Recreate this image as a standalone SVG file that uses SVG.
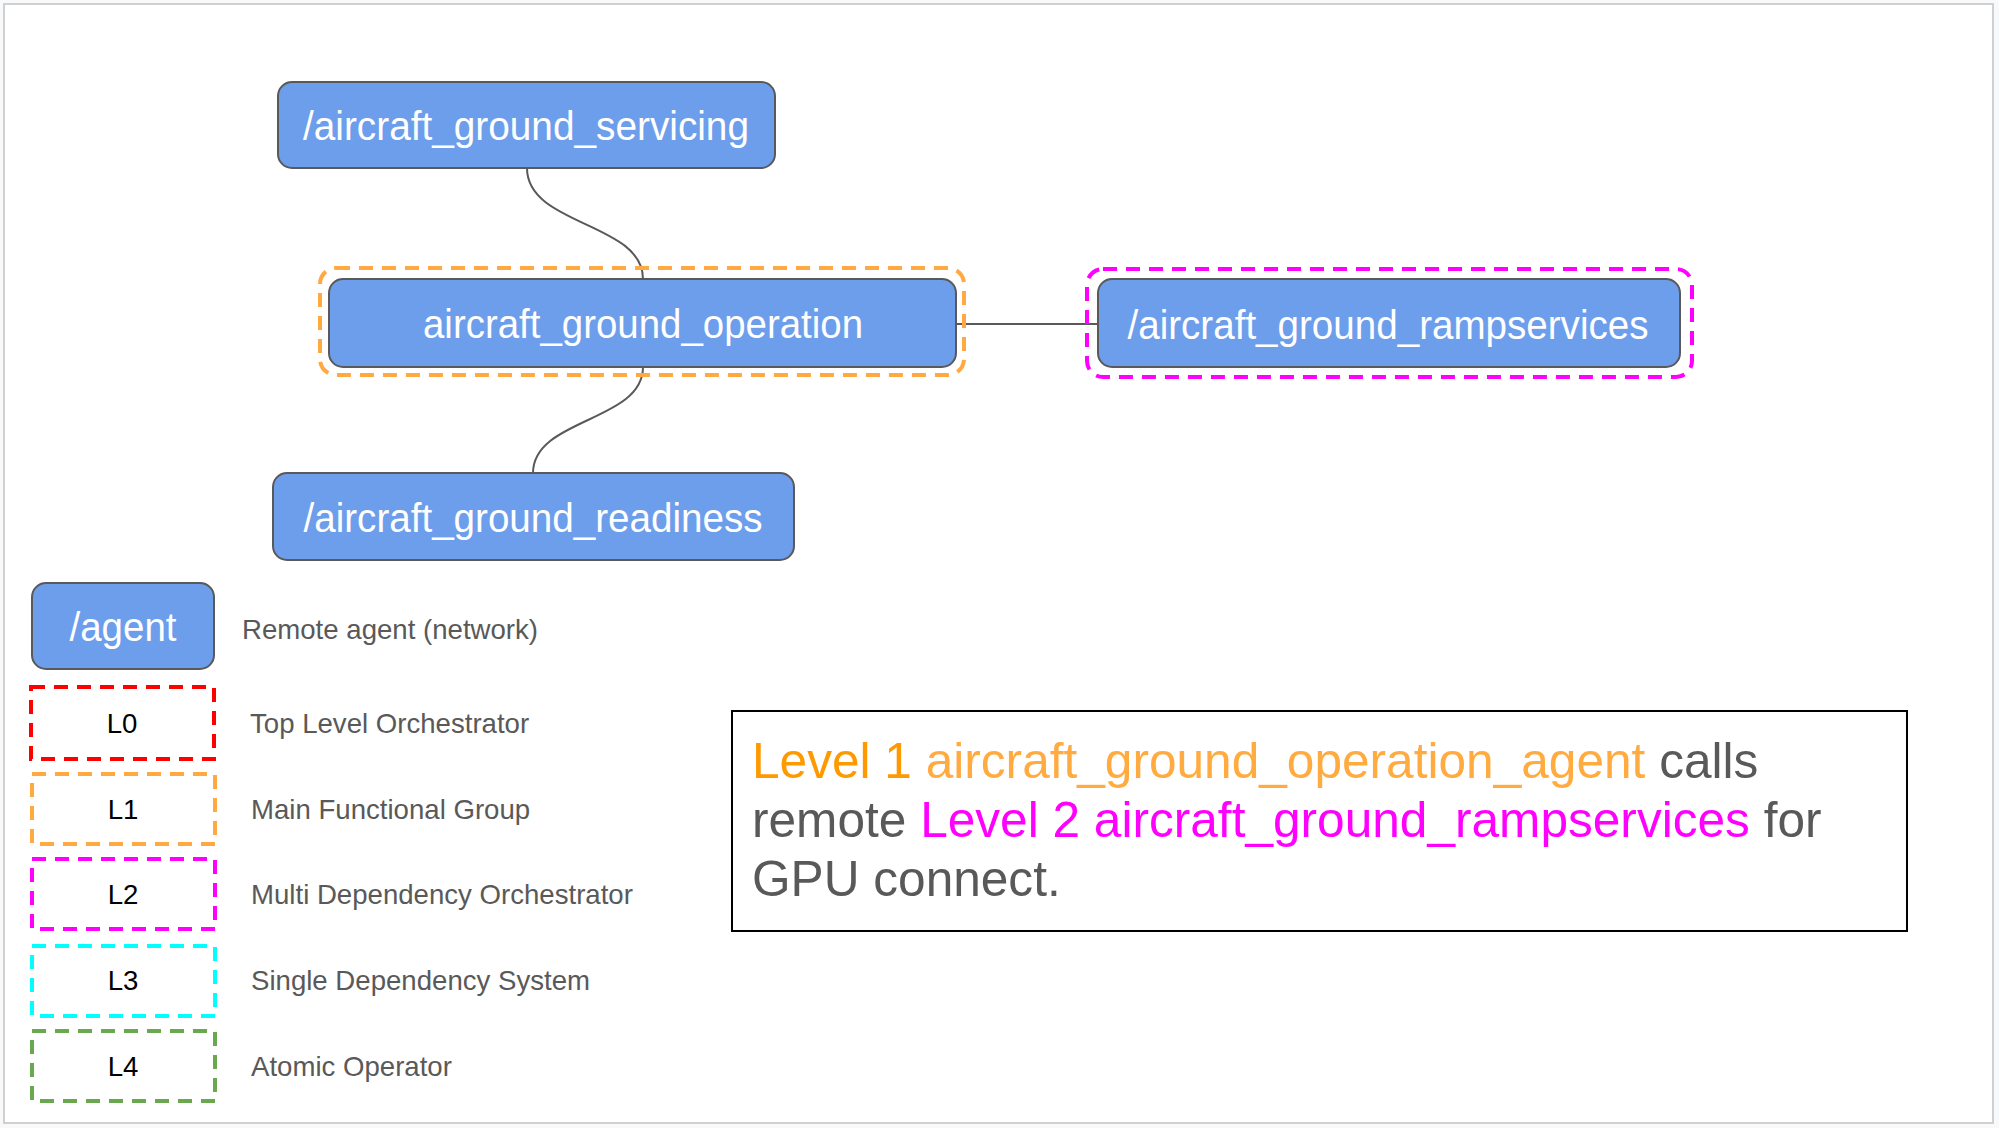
<svg xmlns="http://www.w3.org/2000/svg" width="1999" height="1128" viewBox="0 0 1999 1128">
<style>
.node{fill:#6d9eeb;stroke:#595959;stroke-width:2}
.ntext{font-family:"Liberation Sans",Arial,sans-serif;font-size:40.5px;fill:#ffffff;text-anchor:middle}
.edge{fill:none;stroke:#595959;stroke-width:2}
.dash{fill:none;stroke-width:4;stroke-dasharray:14 9}
.lg{font-family:"Liberation Sans",Arial,sans-serif;font-size:27.6px;fill:#595959}
.lk{font-family:"Liberation Sans",Arial,sans-serif;font-size:27.6px;fill:#000000;text-anchor:middle}
.note{font-family:"Liberation Sans",Arial,sans-serif;font-size:49.6px;fill:#595959}
</style>
<rect x="0" y="0" width="1999" height="1128" fill="#f8f9fa"/>
<rect x="4" y="4" width="1989" height="1119" fill="#ffffff" stroke="#d0d0d0" stroke-width="2"/>
<g id="connectors">
<path class="edge" d="M527,168 C527,226 643,222 643,279"/>
<path class="edge" d="M643,367 C643,422 533,418 533,473"/>
<path class="edge" d="M956,324 L1098,324"/>
</g>
<g id="node-servicing">
<rect class="node" x="278" y="82" width="497" height="86" rx="14"/>
<text class="ntext" x="526" y="140" textLength="446" lengthAdjust="spacingAndGlyphs">/aircraft_ground_servicing</text>
</g>
<g id="node-operation">
<rect class="dash" x="320" y="268" width="644" height="107" rx="16" stroke="#ffa940"/>
<rect class="node" x="329" y="279" width="627" height="88" rx="14"/>
<text class="ntext" x="643" y="338" textLength="440" lengthAdjust="spacingAndGlyphs">aircraft_ground_operation</text>
</g>
<g id="node-rampservices">
<rect class="dash" x="1087" y="269" width="605" height="108" rx="16" stroke="#ff00ff"/>
<rect class="node" x="1098" y="279" width="582" height="88" rx="14"/>
<text class="ntext" x="1388" y="339" textLength="521" lengthAdjust="spacingAndGlyphs">/aircraft_ground_rampservices</text>
</g>
<g id="node-readiness">
<rect class="node" x="273" y="473" width="521" height="87" rx="14"/>
<text class="ntext" x="533" y="532" textLength="459" lengthAdjust="spacingAndGlyphs">/aircraft_ground_readiness</text>
</g>
<g id="legend">
<g id="legend-agent">
<rect class="node" x="32" y="583" width="182" height="86" rx="14"/>
<text class="ntext" x="123" y="641" textLength="107" lengthAdjust="spacingAndGlyphs">/agent</text>
<text class="lg" x="242" y="639">Remote agent (network)</text>
</g>
<g id="legend-l0">
<rect class="dash" x="31" y="687" width="183" height="72" stroke="#ff0000"/>
<text class="lk" x="122" y="733">L0</text>
<text class="lg" x="250" y="733">Top Level Orchestrator</text>
</g>
<g id="legend-l1">
<rect class="dash" x="32" y="774" width="183" height="70" stroke="#ffa940"/>
<text class="lk" x="123" y="819">L1</text>
<text class="lg" x="251" y="819">Main Functional Group</text>
</g>
<g id="legend-l2">
<rect class="dash" x="32" y="859" width="183" height="70" stroke="#ff00ff"/>
<text class="lk" x="123" y="904">L2</text>
<text class="lg" x="251" y="904">Multi Dependency Orchestrator</text>
</g>
<g id="legend-l3">
<rect class="dash" x="32" y="946" width="183" height="70" stroke="#00ffff"/>
<text class="lk" x="123" y="990">L3</text>
<text class="lg" x="251" y="990">Single Dependency System</text>
</g>
<g id="legend-l4">
<rect class="dash" x="32" y="1031" width="183" height="70" stroke="#6aa84f"/>
<text class="lk" x="123" y="1076">L4</text>
<text class="lg" x="251" y="1076">Atomic Operator</text>
</g>
</g>
<g id="note">
<rect x="732" y="711" width="1175" height="220" fill="#ffffff" stroke="#000000" stroke-width="2"/>
<text class="note" x="752" y="778"><tspan fill="#ff9900">Level 1 </tspan><tspan fill="#ffab40">aircraft_ground_operation_agent</tspan> calls</text>
<text class="note" x="752" y="837">remote <tspan fill="#ff00ff">Level 2 aircraft_ground_rampservices</tspan> for</text>
<text class="note" x="752" y="896">GPU connect.</text>
</g>
</svg>
